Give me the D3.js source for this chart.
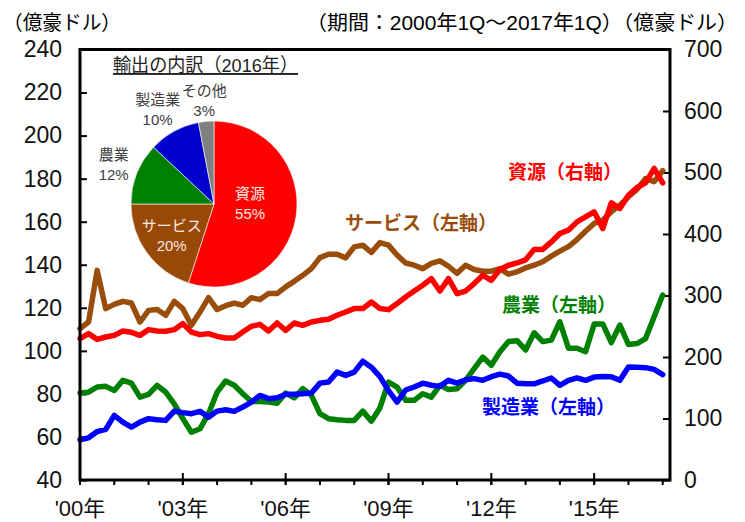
<!DOCTYPE html>
<html>
<head>
<meta charset="utf-8">
<script src="https://cdn.jsdelivr.net/npm/d3@7"></script>
<style>
  body { margin: 0; background: #fff; }
  svg { display: block; font-family: "Liberation Sans", "Noto Sans CJK JP", sans-serif; }
</style>
</head>
<body>
<svg id="chart" width="745" height="522"></svg>
<script>
// quarterly, 2000Q1 .. 2017Q1
const quarterCount = 69;
const yearTickLabels = ["'00年", "'03年", "'06年", "'09年", "'12年", "'15年"];

// 億豪ドル, left axis
const services = [
  110.3, 113.4, 137.4, 119.6, 121.6, 123.0, 122.2, 113.4, 118.8, 119.2,
  116.5, 123.0, 119.6, 111.9, 118.0, 124.7, 119.2, 121.0, 122.2, 121.2,
  124.7, 123.8, 126.6, 126.6, 129.7, 132.3, 135.1, 138.2, 143.3, 144.9,
  144.9, 143.2, 148.3, 149.1, 145.7, 150.3, 149.1, 144.5, 140.8, 139.8,
  138.2, 140.6, 141.8, 139.3, 136.0, 139.8, 137.8, 137.0, 137.0, 138.2,
  135.6, 136.7, 138.5, 139.8, 141.4, 144.0, 146.3, 148.4, 151.7, 155.6,
  159.2, 160.7, 164.6, 167.7, 171.6, 175.0, 180.1, 178.6, 183.7
];
const agriculture = [
  80.4, 80.8, 83.2, 83.5, 81.6, 86.3, 85.0, 78.5, 79.8, 84.0,
  80.8, 75.4, 68.5, 62.2, 63.8, 70.8, 80.8, 86.0, 84.0, 80.1,
  76.5, 76.5, 76.2, 75.7, 80.4, 78.2, 82.4, 79.3, 70.8, 68.5,
  68.0, 67.7, 67.7, 72.0, 67.3, 73.5, 85.5, 83.2, 77.0, 77.0,
  80.1, 78.5, 84.0, 82.0, 82.4, 86.3, 91.7, 97.1, 93.3, 99.6,
  104.3, 104.7, 100.4, 108.4, 104.3, 105.0, 113.5, 101.2, 101.2, 99.6,
  112.5, 112.5, 103.8, 112.0, 103.0, 103.4, 105.7, 115.8, 125.9
];
const manufacturing = [
  58.7, 59.6, 62.5, 63.5, 70.0, 66.9, 64.6, 66.9, 68.5, 68.0,
  67.7, 72.0, 71.3, 70.8, 71.9, 69.2, 72.0, 72.6, 71.9, 73.9,
  76.2, 79.3, 77.8, 78.2, 79.8, 79.8, 80.1, 80.4, 85.0, 85.5,
  90.1, 88.6, 90.1, 95.2, 92.4, 88.0, 81.5, 76.2, 81.8, 83.2,
  85.0, 84.0, 83.5, 86.3, 85.0, 86.6, 87.1, 86.3, 88.0, 89.2,
  88.3, 85.0, 84.7, 84.7, 86.0, 87.4, 84.0, 86.3, 87.4, 86.3,
  87.8, 88.1, 88.0, 86.3, 92.5, 92.4, 92.2, 91.4, 89.0
];
// 億豪ドル, right axis
const resources = [
  229.8, 238.0, 228.7, 232.5, 235.2, 242.3, 240.1, 235.2, 244.5, 242.3,
  241.8, 244.5, 254.3, 240.6, 236.4, 238.0, 233.6, 231.0, 230.9, 240.6,
  249.9, 253.1, 242.3, 255.3, 243.4, 255.3, 251.5, 256.9, 259.6, 261.3,
  267.8, 273.2, 278.7, 278.7, 289.5, 278.7, 277.0, 286.8, 297.6, 307.3,
  316.6, 327.5, 307.3, 327.5, 303.1, 307.3, 319.4, 332.9, 324.8, 342.2,
  349.2, 352.9, 358.0, 375.0, 375.0, 387.1, 400.8, 406.2, 419.7, 427.9,
  436.0, 408.9, 450.6, 441.5, 463.1, 475.6, 483.2, 506.6, 483.2
];

// pie: export breakdown 2016
const pieNames = ["資源", "サービス", "農業", "製造業", "その他"];
const pieShares = [55, 20, 12, 10, 3];

const leftTicks = d3.range(40, 241, 20);
const rightTicks = d3.range(0, 701, 100);

const svg = d3.select('#chart');
const margin = { left: 80, right: 75, top: 49.5, bottom: 42 };
const W = 745, H = 522;

const x = d3.scaleLinear().domain([0, 68.85]).range([margin.left, W - margin.right]);
const yL = d3.scaleLinear().domain([40, 240]).range([H - margin.bottom, margin.top]);
const yR = d3.scaleLinear().domain([0, 700]).range([H - margin.bottom, margin.top]);

// titles
svg.append('text')
  .attr('x', 3).attr('y', 30)
  .attr('font-size', 20)
  .attr('textLength', 118).attr('lengthAdjust', 'spacingAndGlyphs')
  .text('（億豪ドル）');
svg.append('text')
  .attr('x', 306).attr('y', 30)
  .attr('font-size', 20)
  .attr('textLength', 432).attr('lengthAdjust', 'spacingAndGlyphs')
  .text('（期間：2000年1Q～2017年1Q）（億豪ドル）');

// y axes
const leftAxis = svg.append('g')
  .attr('transform', 'translate(' + margin.left + ',0)')
  .call(d3.axisLeft(yL).tickValues(leftTicks).tickSize(-7).tickPadding(18));
const rightAxis = svg.append('g')
  .attr('transform', 'translate(' + (W - margin.right) + ',0)')
  .call(d3.axisRight(yR).tickValues(rightTicks).tickSize(-7).tickPadding(14));
[leftAxis, rightAxis].forEach(g => {
  g.select('.domain').remove();
  g.selectAll('line').attr('stroke', '#000').attr('stroke-width', 2);
  g.selectAll('text')
    .attr('font-size', 23)
    .attr('font-family', '"Liberation Sans", sans-serif')
    .attr('fill', '#111');
});

// x axis ticks: each year minor, every 3 years major
const yearStarts = d3.range(0, quarterCount, 4);
const xAxisG = svg.append('g');
xAxisG.selectAll('line.minor')
  .data(yearStarts)
  .enter()
  .append('line')
  .attr('x1', d => x(d)).attr('x2', d => x(d))
  .attr('y1', yL(40)).attr('y2', yL(40) + 5)
  .attr('stroke', '#000').attr('stroke-width', 2);
const majorStarts = yearTickLabels.map((_, i) => i * 12);
xAxisG.selectAll('line.major')
  .data(majorStarts)
  .enter()
  .append('line')
  .attr('x1', d => x(d)).attr('x2', d => x(d))
  .attr('y1', yL(40) - 7).attr('y2', yL(40) + 5)
  .attr('stroke', '#000').attr('stroke-width', 2);
xAxisG.selectAll('text')
  .data(yearTickLabels)
  .enter()
  .append('text')
  .attr('x', (d, i) => x(majorStarts[i]))
  .attr('y', 516)
  .attr('text-anchor', 'middle')
  .attr('font-size', 22)
  .attr('fill', '#111')
  .text(d => d);

// lines
const lineL = d3.line().x((d, i) => x(i)).y(d => yL(d));
const lineR = d3.line().x((d, i) => x(i)).y(d => yR(d));
const series = [
  { values: services, gen: lineL, color: '#9A4D0B' },
  { values: agriculture, gen: lineL, color: '#008000' },
  { values: manufacturing, gen: lineL, color: '#0000FF' },
  { values: resources, gen: lineR, color: '#FF0000' }
];
svg.append('g')
  .selectAll('path')
  .data(series)
  .enter()
  .append('path')
  .attr('d', s => s.gen(s.values))
  .attr('fill', 'none')
  .attr('stroke', s => s.color)
  .attr('stroke-width', 5.5)
  .attr('stroke-linejoin', 'round')
  .attr('stroke-linecap', 'round');

// frame
svg.append('rect')
  .attr('x', margin.left).attr('y', margin.top)
  .attr('width', W - margin.right - margin.left)
  .attr('height', H - margin.bottom - margin.top)
  .attr('fill', 'none')
  .attr('stroke', '#000')
  .attr('stroke-width', 3);

// series labels
const seriesLabels = [
  { text: '資源（右軸）', color: '#FF0000', x: 508, y: 179 },
  { text: 'サービス（左軸）', color: '#9A4D0B', x: 345, y: 230 },
  { text: '農業（左軸）', color: '#008000', x: 502, y: 312 },
  { text: '製造業（左軸）', color: '#0000FF', x: 482, y: 414 }
];
svg.append('g')
  .selectAll('text')
  .data(seriesLabels)
  .enter()
  .append('text')
  .attr('x', d => d.x).attr('y', d => d.y)
  .attr('fill', d => d.color)
  .attr('font-size', 19)
  .attr('font-weight', 'bold')
  .attr('font-family', '"Noto Sans CJK JP", sans-serif')
  .text(d => d.text);

// pie inset
const pieCx = 214, pieCy = 204, pieR = 83;
const pieColors = ['#FF0000', '#984807', '#008000', '#0000CC', '#808080'];
const pieData = d3.pie().sort(null)(pieShares);
const arc = d3.arc().innerRadius(0).outerRadius(pieR);
const pieG = svg.append('g').attr('transform', 'translate(' + pieCx + ',' + pieCy + ')');
pieG.selectAll('path')
  .data(pieData)
  .enter()
  .append('path')
  .attr('d', arc)
  .attr('fill', (d, i) => pieColors[i])
  .attr('stroke', '#fff')
  .attr('stroke-width', 0.6);

const labelRadius = [0.44, 0.63, 1.3, 1.31, 1.26];
pieData.forEach((d, i) => {
  const a = (d.startAngle + d.endAngle) / 2;
  const r = pieR * labelRadius[i];
  const lx = Math.sin(a) * r;
  const ly = -Math.cos(a) * r - (i === 0 ? 7 : 0);
  const inside = i < 2;
  const t = pieG.append('text')
    .attr('text-anchor', 'middle')
    .attr('font-size', 15)
    .attr('fill', inside ? '#FDE9E0' : '#404040');
  t.append('tspan').attr('x', lx - (i === 3 ? 4 : 0)).attr('y', ly - 4).text(pieNames[i]);
  t.append('tspan').attr('x', lx - (i === 3 ? 4 : 0)).attr('y', ly + 16).text(pieShares[i] + '%');
});

svg.append('text')
  .attr('x', 113).attr('y', 72)
  .attr('font-size', 19)
  .attr('fill', '#222')
  .attr('textLength', 185).attr('lengthAdjust', 'spacingAndGlyphs')
  .attr('text-decoration', 'underline')
  .text('輸出の内訳（2016年）');
</script>
</body>
</html>
